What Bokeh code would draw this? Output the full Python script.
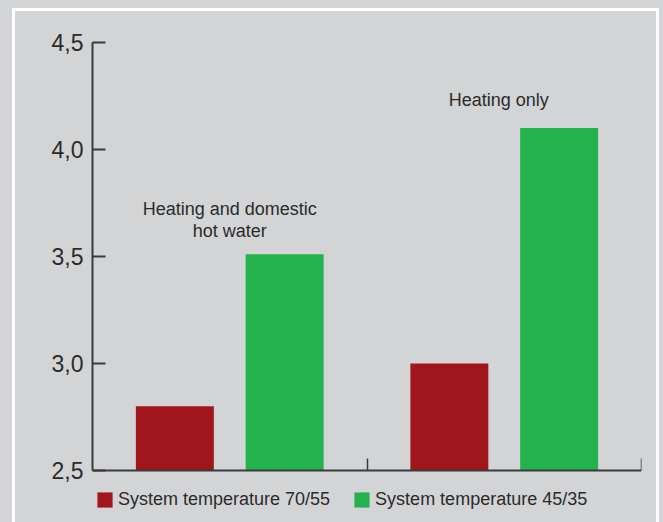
from bokeh.plotting import figure
from bokeh.models import (ColumnDataSource, Range1d, FixedTicker, Label,
                          Legend, LegendItem)
from bokeh.embed import file_html
from bokeh.resources import INLINE

# Seasonal performance by operating mode
groups = ["Heating and domestic hot water", "Heating only"]
series_names = ["System temperature 70/55", "System temperature 45/35"]
temp_70_55 = [2.8, 3.0]
temp_45_35 = [3.51, 4.1]
y_ticks = [2.5, 3.0, 3.5, 4.0, 4.5]
y_tick_labels = ["2,5", "3,0", "3,5", "4,0", "4,5"]
group_labels = [["Heating and domestic", "hot water"], ["Heating only"]]

RED = "#a1161d"
GREEN = "#23b24c"
BG = "#d3d4d6"
INK = "#2b2b2b"
AXIS = "#3a3a3c"
FONT = "Liberation Sans"

W, H = 663, 522
TOP, BOTTOM = 42, 8          # borders above / below the plotting frame
AXIS_SPAN_PX = 428           # pixel height of the 2,5 .. 4,5 axis
px_per_unit = AXIS_SPAN_PX / (y_ticks[-1] - y_ticks[0])
frame_h = H - TOP - BOTTOM
y_start = y_ticks[-1] - frame_h / px_per_unit   # room below 2,5 for the legend

centers = [i + 0.5 for i in range(len(groups))]
offset = 0.2
bar_w = 0.284

src_a = ColumnDataSource(dict(x=[c - offset for c in centers], top=temp_70_55))
src_b = ColumnDataSource(dict(x=[c + offset for c in centers], top=temp_45_35))

# grey panel with a thin white frame, painted behind a transparent canvas
panel_css = {
    "background-color": BG,
    "background-image": ("linear-gradient(#ffffff,#ffffff), "
                         "linear-gradient(#ffffff,#ffffff), "
                         "linear-gradient(#ffffff,#ffffff)"),
    "background-position": "12px 8px, 12px 8px, 656px 8px",
    "background-size": "647px 3px, 3px 100%, 3px 100%",
    "background-repeat": "no-repeat",
}

p = figure(width=W, height=H, output_backend="svg", toolbar_location=None,
           x_range=Range1d(0, len(groups)), y_range=Range1d(y_start, y_ticks[-1]),
           min_border_left=92, min_border_right=22, min_border_top=TOP,
           min_border_bottom=BOTTOM, styles=panel_css)
p.background_fill_color = None
p.border_fill_color = None
p.outline_line_color = None
p.grid.visible = False

r_a = p.vbar(x="x", top="top", bottom=y_ticks[0], width=bar_w, source=src_a,
             fill_color=RED, line_color=None)
r_b = p.vbar(x="x", top="top", bottom=y_ticks[0], width=bar_w, source=src_b,
             fill_color=GREEN, line_color=None)

# y axis: inward ticks, comma decimals, line limited to 2,5 .. 4,5
yax = p.yaxis[0]
yax.ticker = FixedTicker(ticks=y_ticks)
yax.bounds = (y_ticks[0], y_ticks[-1])
yax.major_label_overrides = {t: lab for t, lab in zip(y_ticks, y_tick_labels)}
yax.major_tick_in = 13
yax.major_tick_out = 0
yax.minor_tick_in = 0
yax.minor_tick_out = 0
yax.major_label_standoff = 9
yax.major_label_text_font = FONT
yax.major_label_text_font_size = "23px"
yax.major_label_text_color = INK
yax.axis_line_color = AXIS
yax.axis_line_width = 2
yax.major_tick_line_color = AXIS
yax.major_tick_line_width = 2

# x axis sits at 2,5: only group separators, no labels
xax = p.xaxis[0]
xax.fixed_location = y_ticks[0]
xax.ticker = FixedTicker(ticks=[1, 2])
xax.major_label_overrides = {1: "", 2: ""}
xax.major_label_standoff = 0
xax.major_tick_in = 12
xax.major_tick_out = 0
xax.minor_tick_in = 0
xax.minor_tick_out = 0
xax.axis_line_color = AXIS
xax.axis_line_width = 2
xax.major_tick_line_color = AXIS
xax.major_tick_line_width = 1.5

# group captions above the bars
caption_y = [[3.724, 3.621], [4.229]]
for c, lines, ys in zip(centers, group_labels, caption_y):
    for line, y in zip(lines, ys):
        p.add_layout(Label(x=c - 0.02 if len(lines) == 1 else c, y=y, text=line,
                           text_align="center", text_baseline="middle",
                           text_font=FONT, text_font_size="18px",
                           text_color=INK))

legend = Legend(items=[LegendItem(label=series_names[0], renderers=[r_a]),
                       LegendItem(label=series_names[1], renderers=[r_b])],
                orientation="horizontal", location=(3, 4),
                padding=0, margin=0, spacing=22, label_standoff=4,
                glyph_width=19, glyph_height=19,
                label_text_font=FONT, label_text_font_size="18px",
                label_text_color=INK, border_line_color=None,
                background_fill_alpha=0)
p.add_layout(legend, "center")

open("out.html", "w").write(file_html(p, INLINE))
